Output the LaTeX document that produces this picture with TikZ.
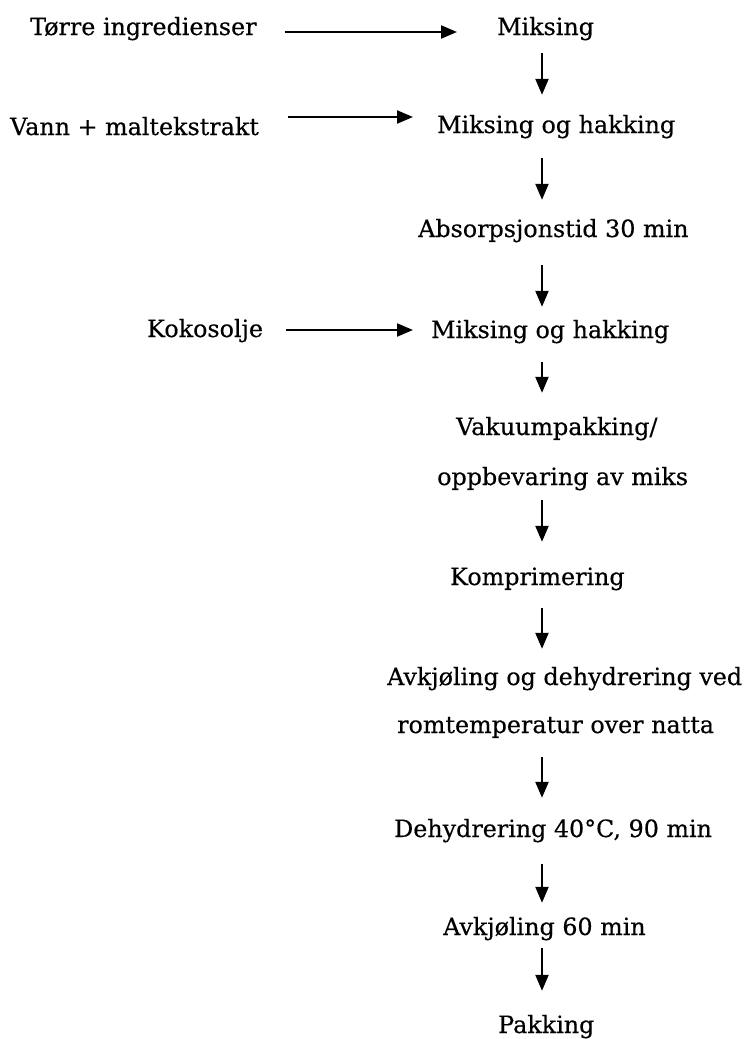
\documentclass[tikz,border=0pt]{standalone}
\usepackage{fontspec}
\setmainfont{DejaVu Serif}[FakeBold=0.4]
\usetikzlibrary{arrows.meta,calc}
\begin{document}
\begin{tikzpicture}[x=1pt,y=-1pt,
  lbl/.style={anchor=base west,inner sep=0pt,font=\fontsize{23.8}{28}\selectfont,text height=18pt,text depth=6pt},
  arr/.style={line width=2.2pt,-{Triangle[length=16pt,width=13pt]}}]
\useasboundingbox (0,0) rectangle (745,1039);
\coordinate (ax) at (542,0);
% left inputs
\node[lbl] (t1) at (30,35) {Tørre ingredienser};
\node[lbl] (t2) at (10,135) {Vann + maltekstrakt};
\node[lbl] (t3) at (147,337) {Kokosolje};
% main column
\node[lbl] (m1) at (497,35) {Miksing};
\node[lbl] (m2) at (437,133) {Miksing og hakking};
\node[lbl] (m3) at (418,237) {Absorpsjonstid 30 min};
\node[lbl] (m4) at (431,338) {Miksing og hakking};
\node[lbl] (m5) at (456,435) {Vakuumpakking/};
\node[lbl] (m5b) at (437,485) {oppbevaring av miks};
\node[lbl] (m6) at (450,585) {Komprimering};
\node[lbl] (m7) at (387,685) {Avkjøling og dehydrering ved};
\node[lbl] (m7b) at (397,733) {romtemperatur over natta};
\node[lbl] (m8) at (394,837) {Dehydrering 40°C, 90 min};
\node[lbl] (m9) at (443,935) {Avkjøling 60 min};
\node[lbl] (m10) at (498,1033) {Pakking};
% horizontal arrows
\draw[arr] ([xshift=28pt,yshift=3pt]t1.base east) -- ([xshift=-40pt,yshift=3pt]m1.base west);
\draw[arr] ([xshift=29pt,yshift=18pt]t2.base east) -- ([xshift=-24pt,yshift=16pt]m2.base west);
\draw[arr] ([xshift=23pt,yshift=7pt]t3.base east) -- ([xshift=-18pt,yshift=8pt]m4.base west);
% vertical arrows
\draw[arr,shorten <=12pt,shorten >=20pt] (ax |- m1.south) -- (ax |- m2.north);
\draw[arr,shorten <=19pt,shorten >=19pt] (ax |- m2.south) -- (ax |- m3.north);
\draw[arr,shorten <=22pt,shorten >=13pt] (ax |- m3.south) -- (ax |- m4.north);
\draw[arr,shorten <=18pt,shorten >=24pt] (ax |- m4.south) -- (ax |- m5.north);
\draw[arr,shorten <=9pt,shorten >=25pt] (ax |- m5b.south) -- (ax |- m6.north);
\draw[arr,shorten <=17pt,shorten >=18pt] (ax |- m6.south) -- (ax |- m7.north);
\draw[arr,shorten <=18pt,shorten >=21pt] (ax |- m7b.south) -- (ax |- m8.north);
\draw[arr,shorten <=21pt,shorten >=14pt] (ax |- m8.south) -- (ax |- m9.north);
\draw[arr,shorten <=7pt,shorten >=24pt] (ax |- m9.south) -- (ax |- m10.north);
\end{tikzpicture}
\end{document}
